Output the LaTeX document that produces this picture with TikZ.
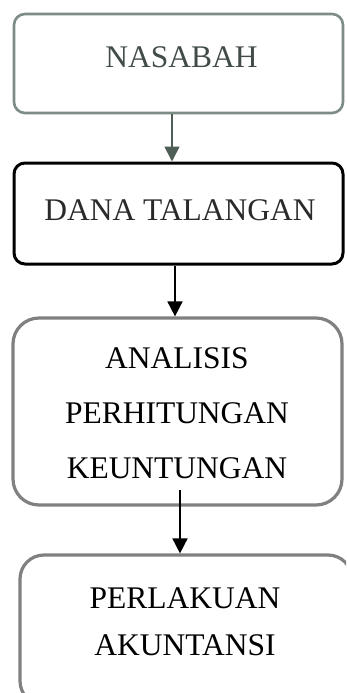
\documentclass[tikz,border=0pt]{standalone}
\usepackage{fontspec}
\setmainfont{Liberation Serif}
\usetikzlibrary{arrows.meta}
\definecolor{boxgreen}{HTML}{7D8C84}
\definecolor{arrowgreen}{HTML}{4F5F55}
\definecolor{txtgreen}{HTML}{414C46}
\definecolor{boxgray}{HTML}{808080}
\definecolor{txtdark}{HTML}{2A2A2A}
\tikzset{
  box/.style={draw, inner sep=0pt, line width=#1},
  lbl/.style={font=\fontsize{31.5}{36}\selectfont, inner sep=0pt, anchor=center},
  arr/.style={-{Triangle[width=15pt,length=15pt]}, line width=1.7pt}
}
\begin{document}
\begin{tikzpicture}[x=1pt,y=-1pt]
\useasboundingbox (0,0) rectangle (346,693);
\clip (0,0) rectangle (346,693);
% boxes
\node[box=2.6pt, draw=boxgreen, rounded corners=11pt, minimum width=329pt, minimum height=99pt] (b1) at (178.5,63.5) {};
\node[box=3pt, draw=black, rounded corners=11pt, minimum width=329pt, minimum height=101pt] (b2) at (178.5,213.5) {};
\node[box=3.2pt, draw=boxgray, rounded corners=26pt, minimum width=329pt, minimum height=187pt] (b3) at (177.5,411.5) {};
\node[box=3.2pt, draw=boxgray, rounded corners=24pt, minimum width=332pt, minimum height=150pt] (b4) at (186,630) {};
% texts
\node[lbl, text=txtgreen] (t1) at (181.5,57) {NASABAH};
\node[lbl, text=txtdark] (t2) at (180,210) {DANA TALANGAN};
\node[lbl] (t3a) at (177,358) {ANALISIS};
\node[lbl] (t3b) at (177,413) {PERHITUNGAN};
\node[lbl] (t3c) at (177,468) {KEUNTUNGAN};
\node[lbl] (t4a) at (185,598) {PERLAKUAN};
\node[lbl] (t4b) at (185,645) {AKUNTANSI};
% arrows
\coordinate (x1) at (172,0);
\coordinate (x2) at (175,0);
\coordinate (a3s) at (180,490);
\draw[arr, draw=arrowgreen, fill=arrowgreen] (b1.south -| x1) -- (b2.north -| x1);
\draw[arr] (b2.south -| x2) -- (b3.north -| x2);
\draw[arr] (a3s) -- (b4.north -| a3s);
\end{tikzpicture}
\end{document}
